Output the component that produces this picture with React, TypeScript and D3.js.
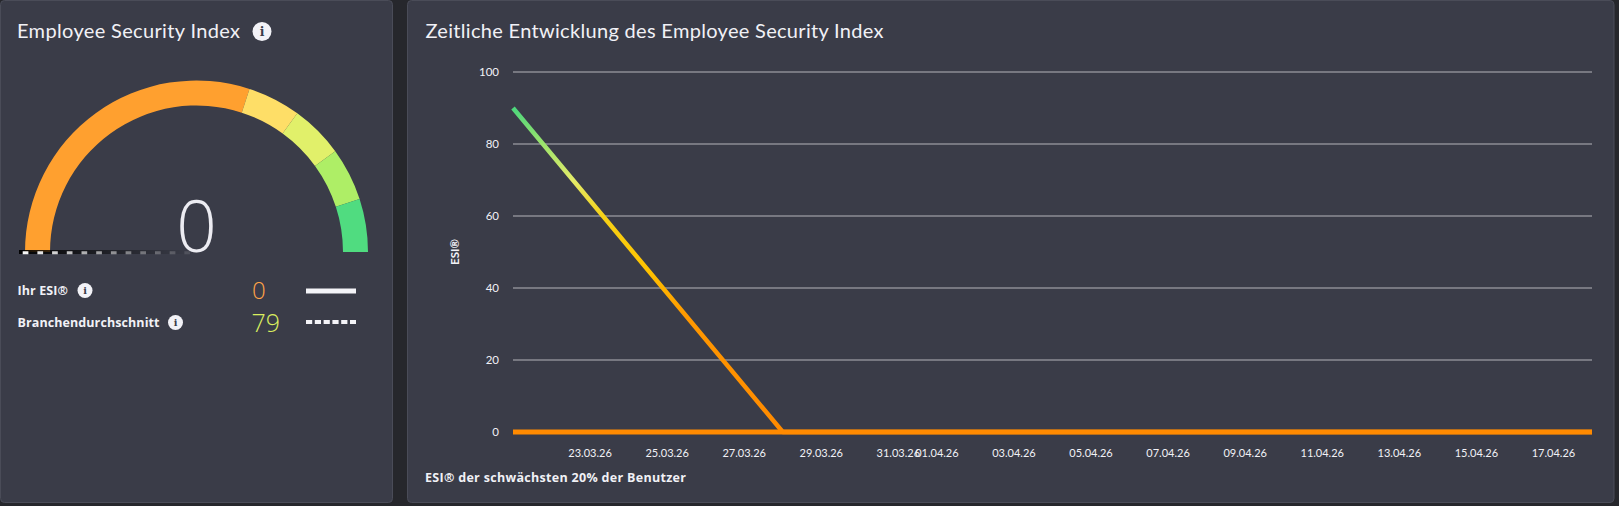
import React from "react";
import * as d3 from "d3";

// ---------- data ----------
const gaugeBands = [0, 60, 70, 80, 90, 100];
const gaugeColors = ["#ffa02f", "#fede67", "#e1f06a", "#aeee66", "#50dc80"];
const yourEsi = 0;
const industryAvg = 79;

const seriesDates = ["2026-03-21", "2026-03-28", "2026-04-04", "2026-04-11", "2026-04-18"];
const esiValues = [90, 0, 0, 0, 0];
const weakestValues = [0, 0, 0, 0, 0];
const yTicks = [0, 20, 40, 60, 80, 100];
const xTickDates = [
  "2026-03-23", "2026-03-25", "2026-03-27", "2026-03-29", "2026-03-31",
  "2026-04-01", "2026-04-03", "2026-04-05", "2026-04-07", "2026-04-09",
  "2026-04-11", "2026-04-13", "2026-04-15", "2026-04-17",
];
const xDomain = ["2026-03-21", "2026-04-18"];

const FONT = "Lato, 'Open Sans', sans-serif";
const BOLD = "'Open Sans', Lato, sans-serif";
const TEXT = "#f1f1f6";

const parse = (s: string) => new Date(s + "T00:00:00Z");
const fmt = d3.utcFormat("%d.%m.%y");

function InfoIcon({ cx, cy, r }: { cx: number; cy: number; r: number }) {
  return (
    <g>
      <circle cx={cx} cy={cy} r={r} fill="#f2f2f7" />
      <text
        x={cx}
        y={cy + r * 0.45}
        textAnchor="middle"
        fontFamily="'DejaVu Serif', serif"
        fontWeight="bold"
        fontSize={r * 1.3}
        fill="#3a3c48"
      >
        i
      </text>
    </g>
  );
}

export default function App() {
  // gauge
  const gcx = 196.5;
  const gcy = 252;
  const gauge = d3.scaleLinear().domain([0, 100]).range([-Math.PI / 2, Math.PI / 2]);
  const arc = d3.arc<any>().innerRadius(146.5).outerRadius(171.5);

  // line chart
  const x = d3.scaleUtc().domain(xDomain.map(parse)).range([513, 1592]);
  const y = d3.scaleLinear().domain([0, 100]).range([432, 72]);
  const pts = seriesDates.map((d, i) => ({ d: parse(d), esi: esiValues[i], weak: weakestValues[i] }));
  const esiLine = d3.line<any>().x((p) => x(p.d)).y((p) => y(p.esi))(pts) || "";
  const weakLine = d3.line<any>().x((p) => x(p.d)).y((p) => y(p.weak))(pts) || "";

  const gradStops: [number, string][] = [
    [100, "#3ed47e"],
    [90, "#4cd67c"],
    [80, "#9ce36c"],
    [70, "#e3ec6a"],
    [60, "#f6d117"],
    [45, "#ffc300"],
    [32, "#ff9800"],
    [0, "#ff8a00"],
  ];

  return (
    <svg
      width={1619}
      height={506}
      style={{ position: "absolute", left: 0, top: 0, display: "block" }}
    >
      <defs>
        <linearGradient id="esiGrad" gradientUnits="userSpaceOnUse" x1={0} x2={0} y1={y(100)} y2={y(0)}>
          {gradStops.map(([v, c], i) => (
            <stop key={i} offset={(100 - v) / 100} stopColor={c} />
          ))}
        </linearGradient>
        <linearGradient id="needleDark" gradientUnits="userSpaceOnUse" x1={19} x2={190} y1={0} y2={0}>
          <stop offset={0} stopColor="#000" stopOpacity={0.95} />
          <stop offset={1} stopColor="#000" stopOpacity={0} />
        </linearGradient>
        <linearGradient id="needleLight" gradientUnits="userSpaceOnUse" x1={19} x2={190} y1={0} y2={0}>
          <stop offset={0} stopColor="#ffffff" stopOpacity={1} />
          <stop offset={1} stopColor="#ffffff" stopOpacity={0.1} />
        </linearGradient>
      </defs>
      <rect x={0} y={0} width={1619} height={506} fill="#26272c" />

      {/* left panel */}
      <rect x={0.5} y={0.5} width={392} height={502} rx={4} fill="#3a3c48" stroke="#4a4c58" />
      <text x={17} y={38} fontFamily={FONT} fontSize={20} fill={TEXT} textLength={223}>
        Employee Security Index
      </text>
      <InfoIcon cx={262} cy={31.5} r={9.5} />

      <g transform={`translate(${gcx},${gcy})`}>
        {gaugeColors.map((c, i) => (
          <path
            key={i}
            d={arc({ startAngle: gauge(gaugeBands[i]), endAngle: gauge(gaugeBands[i + 1]) }) || ""}
            fill={c}
          />
        ))}
      </g>
      <line x1={19} x2={190} y1={252} y2={252} stroke="url(#needleDark)" strokeWidth={4} />
      <line
        x1={22.7}
        x2={190}
        y1={252.8}
        y2={252.8}
        stroke="url(#needleLight)"
        strokeWidth={3}
        strokeDasharray="5.7 9"
      />
      <text
        x={gcx}
        y={gcy}
        textAnchor="middle"
        fontFamily="'Open Sans', sans-serif"
        fontWeight={300}
        fontSize={71}
        fill="#ececf2"
      >
        {yourEsi}
      </text>

      {/* legend */}
      <text x={17.5} y={295} fontFamily={BOLD} fontWeight="bold" fontSize={12.5} fill={TEXT} textLength={50.5}>
        Ihr ESI®
      </text>
      <InfoIcon cx={85} cy={290.5} r={7.5} />
      <text x={252} y={299} fontFamily="'Open Sans', sans-serif" fontWeight={300} fontSize={24} fill="#ffa347">
        {yourEsi}
      </text>
      <line x1={306} x2={356} y1={291} y2={291} stroke="#f4f4f8" strokeWidth={5} />

      <text x={17.5} y={326.5} fontFamily={BOLD} fontWeight="bold" fontSize={12.5} fill={TEXT} textLength={142}>
        Branchendurchschnitt
      </text>
      <InfoIcon cx={175.5} cy={322.5} r={7.5} />
      <text x={251.5} y={331.5} fontFamily="'Open Sans', sans-serif" fontWeight={300} fontSize={25} fill="#d9ee5f">
        {industryAvg}
      </text>
      <line
        x1={306}
        x2={356}
        y1={322}
        y2={322}
        stroke="#f4f4f8"
        strokeWidth={4}
        strokeDasharray="6.2 2.6"
      />

      {/* right panel */}
      <rect x={407.5} y={0.5} width={1206.5} height={502} rx={4} fill="#3a3c48" stroke="#4a4c58" />
      <text x={425.5} y={38} fontFamily={FONT} fontSize={20} fill={TEXT} textLength={458}>
        Zeitliche Entwicklung des Employee Security Index
      </text>

      {yTicks.map((t) => (
        <g key={t}>
          {t > 0 && (
            <line x1={513} x2={1592} y1={y(t)} y2={y(t)} stroke="#b3b4ba" strokeWidth={1.2} />
          )}
          <text
            x={499}
            y={y(t) + 4}
            textAnchor="end"
            fontFamily={FONT}
            fontSize={11.5}
            fill={TEXT}
          >
            {t}
          </text>
        </g>
      ))}
      <text
        transform={`translate(${459},${252}) rotate(-90)`}
        textAnchor="middle"
        fontFamily={FONT}
        fontWeight="bold"
        fontSize={11.5}
        fill={TEXT}
      >
        ESI®
      </text>

      {xTickDates.map((s) => (
        <text
          key={s}
          x={x(parse(s))}
          y={457}
          textAnchor="middle"
          fontFamily={FONT}
          fontSize={11}
          fill={TEXT}
        >
          {fmt(parse(s))}
        </text>
      ))}

      <path d={weakLine} fill="none" stroke="#ff8a00" strokeWidth={5} />
      <path d={esiLine} fill="none" stroke="url(#esiGrad)" strokeWidth={4.5} strokeLinejoin="round" />

      <text x={425} y={481.5} fontFamily={BOLD} fontWeight="bold" fontSize={12.5} fill={TEXT} textLength={261}>
        ESI® der schwächsten 20% der Benutzer
      </text>
    </svg>
  );
}
